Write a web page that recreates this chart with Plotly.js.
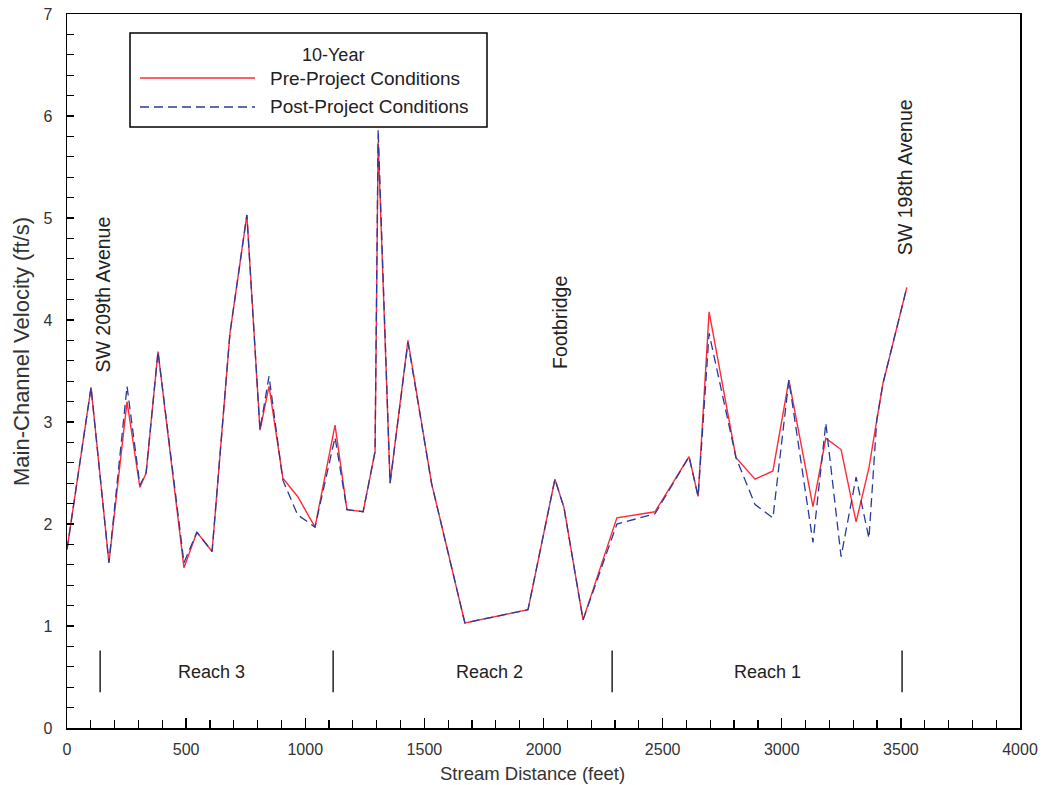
<!DOCTYPE html>
<html>
<head>
<meta charset="utf-8">
<script src="https://cdn.plot.ly/plotly-3.0.1.min.js"></script>
<style>html,body{margin:0;padding:0;background:#fff;}#chart{width:1045px;height:785px;}</style>
</head>
<body>
<div id="chart"></div>
<script>
// Stream distance (feet) of each cross-section
var distance = [0, 101, 176, 252, 306, 332, 382, 491, 545, 609, 684, 755, 810, 848, 906, 968, 1041,
  1125, 1175, 1243, 1293, 1306, 1356, 1431, 1530, 1670, 1935, 2048, 2086, 2166, 2308, 2468,
  2611, 2649, 2695, 2808, 2888, 2963, 3030, 3131, 3185, 3249, 3312, 3366, 3399, 3425, 3525];
// Main-channel velocity (ft/s), pre-project conditions
var preProject = [1.75, 3.34, 1.62, 3.2, 2.36, 2.5, 3.69, 1.57, 1.92, 1.73, 3.87, 5.03, 2.92, 3.35, 2.45, 2.27, 1.97,
  2.97, 2.14, 2.12, 2.71, 5.75, 2.40, 3.80, 2.40, 1.03, 1.16, 2.44, 2.16, 1.06, 2.06, 2.12,
  2.66, 2.27, 4.08, 2.65, 2.44, 2.52, 3.41, 2.17, 2.84, 2.73, 2.02, 2.55, 3.02, 3.38, 4.32];
// Main-channel velocity (ft/s), post-project conditions
var postProject = [1.75, 3.34, 1.62, 3.35, 2.38, 2.5, 3.69, 1.62, 1.92, 1.73, 3.87, 5.03, 2.92, 3.45, 2.43, 2.09, 1.97,
  2.85, 2.14, 2.12, 2.71, 5.87, 2.40, 3.78, 2.40, 1.03, 1.16, 2.44, 2.16, 1.06, 2.00, 2.10,
  2.66, 2.27, 3.87, 2.65, 2.19, 2.06, 3.41, 1.82, 2.99, 1.68, 2.46, 1.86, 3.02, 3.38, 4.32];

// Reach boundaries and labels
var reachBounds = [139, 1117, 2288, 3505];
var reachLabels = ["Reach 3", "Reach 2", "Reach 1"];
var reachLabelX = [608, 1775, 2942];
// Landmark labels
var landmarkLabels = ["SW 209th Avenue", "Footbridge", "SW 198th Avenue"];
var landmarkX = [151, 2069, 3517];
var landmarkY = [4.25, 3.98, 5.4];

var legendTitle = "10-Year";
var seriesNames = ["Pre-Project Conditions", "Post-Project Conditions"];
var xTitle = "Stream Distance (feet)";
var yTitle = "Main-Channel Velocity (ft/s)";

var FONT = "Liberation Sans, Arial, sans-serif";
var RED = "#ff2a3a", BLUE = "#2a3a9a";
var TXT = "#222";

var traces = [
  {x: distance, y: preProject, mode: "lines", name: seriesNames[0],
   line: {color: RED, width: 1.4}, hoverinfo: "x+y"},
  {x: distance, y: postProject, mode: "lines", name: seriesNames[1],
   line: {color: BLUE, width: 1.3, dash: "9px,5px"}, hoverinfo: "x+y"}
];

var shapes = [];
reachBounds.forEach(function (b) {
  shapes.push({type: "line", xref: "x", yref: "y", x0: b, x1: b, y0: 0.35, y1: 0.76,
    line: {color: "#000", width: 1.3}});
});
// legend box
var lx0 = (130 - 67) / 953, lx1 = (487 - 67) / 953;
var ly0 = (728 - 127) / 714, ly1 = (728 - 33) / 714;
shapes.push({type: "rect", xref: "paper", yref: "paper", x0: lx0, x1: lx1, y0: ly0, y1: ly1,
  line: {color: "#000", width: 1.5}, fillcolor: "#fff", layer: "above"});
var sx0 = (140 - 67) / 953, sx1 = (255 - 67) / 953;
var rowY = [(728 - 78) / 714, (728 - 107) / 714];
shapes.push({type: "line", xref: "paper", yref: "paper", x0: sx0, x1: sx1, y0: rowY[0], y1: rowY[0],
  line: {color: RED, width: 1.5}, layer: "above"});
shapes.push({type: "line", xref: "paper", yref: "paper", x0: sx0, x1: sx1, y0: rowY[1], y1: rowY[1],
  line: {color: BLUE, width: 1.3, dash: "9px,5px"}, layer: "above"});

var annotations = [];
reachLabels.forEach(function (t, i) {
  annotations.push({x: reachLabelX[i], y: 0.55, xref: "x", yref: "y", text: t, showarrow: false,
    yanchor: "middle", font: {family: FONT, size: 18, color: TXT}});
});
landmarkLabels.forEach(function (t, i) {
  annotations.push({x: landmarkX[i], y: landmarkY[i], xref: "x", yref: "y", text: t, showarrow: false,
    yanchor: "middle", textangle: -90, font: {family: FONT, size: 19.5, color: TXT}});
});
annotations.push({x: (300 - 67) / 953, y: (728 - 55) / 714, xref: "paper", yref: "paper", text: legendTitle,
  showarrow: false, yanchor: "middle", font: {family: FONT, size: 18, color: TXT}});
seriesNames.forEach(function (t, i) {
  annotations.push({x: (268 - 67) / 953, y: rowY[i], xref: "paper", yref: "paper", text: t,
    showarrow: false, xanchor: "left", yanchor: "middle", font: {family: FONT, size: 19, color: TXT}});
});
// axis titles
annotations.push({x: (532 - 67) / 953, y: (728 - 773) / 714, xref: "paper", yref: "paper", text: xTitle,
  showarrow: false, xanchor: "center", yanchor: "middle", font: {family: FONT, size: 18.5, color: "#333"}});
annotations.push({x: (21 - 67) / 953, y: (728 - 352) / 714, xref: "paper", yref: "paper", text: yTitle,
  showarrow: false, textangle: -90, xanchor: "center", yanchor: "middle", font: {family: FONT, size: 22, color: "#333"}});

var layout = {
  width: 1045, height: 785,
  margin: {l: 67, r: 25, t: 14, b: 57},
  paper_bgcolor: "#fff", plot_bgcolor: "#fff",
  showlegend: false,
  font: {family: FONT, size: 16, color: "#333"},
  xaxis: {
    range: [0, 4000], dtick: 500, tick0: 0, showgrid: false, zeroline: false,
    showline: true, linecolor: "#000", linewidth: 1.5, mirror: true,
    ticks: "inside", ticklen: 10, tickcolor: "#000", tickwidth: 1.3,
    minor: {dtick: 100, ticks: "inside", ticklen: 8, tickcolor: "#000", tickwidth: 1.2},
    tickfont: {family: FONT, size: 16, color: "#333"}, ticklabelstandoff: 6
  },
  yaxis: {
    range: [0, 7], dtick: 1, tick0: 0, showgrid: false, zeroline: false,
    showline: true, linecolor: "#000", linewidth: 1.5, mirror: true,
    ticks: "inside", ticklen: 7, tickcolor: "#000", tickwidth: 1.3,
    minor: {dtick: 0.2, ticks: "inside", ticklen: 7, tickcolor: "#000", tickwidth: 1.2},
    tickfont: {family: FONT, size: 16, color: "#333"}, ticklabelstandoff: 10
  },
  shapes: shapes,
  annotations: annotations
};

Plotly.newPlot("chart", traces, layout, {displayModeBar: false, staticPlot: true});
</script>
</body>
</html>
